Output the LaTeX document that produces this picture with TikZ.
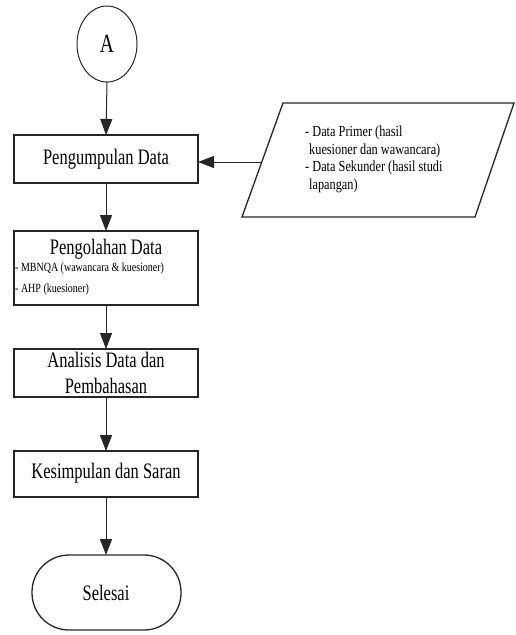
\documentclass[tikz,border=0pt]{standalone}
\usepackage{fontspec}
\setmainfont{Liberation Serif}
\usetikzlibrary{arrows.meta,shapes.geometric,shapes.misc}
\newcommand{\tallt}[1]{\scalebox{1.03}[1.38]{#1}}
\newcommand{\talls}[1]{\scalebox{1}[1.25]{#1}}
\begin{document}
\begin{tikzpicture}[x=1pt,y=-1pt,
  every node/.style={inner sep=0pt},
  line/.style={line width=1.3pt,draw=black!85},
  flow/.style={line width=1pt,draw=black!85,-{Triangle[length=16pt,width=12pt]}},
  big/.style={font=\fontsize{16}{18}\selectfont},
  huge/.style={font=\fontsize{19}{21}\selectfont},
  small/.style={font=\fontsize{10}{11}\selectfont},
  txt/.style={font=\fontsize{12.3}{14}\selectfont}]
\useasboundingbox (0,0) rectangle (515,635);
% connector A
\draw[line,line width=1pt] (107,44) ellipse (30 and 38);
\node[huge] (A) at (107,44) {\tallt{A}};
\coordinate (Abot) at (107,82);
% boxes
\draw[line] (14,135) rectangle (198,183);
\node[big] (b1) at (106,159) {\tallt{Pengumpulan Data}};
\coordinate (b1t) at (106,135);
\coordinate (b1b) at (106,183);
\coordinate (b1r) at (198,162);

\draw[line] (14,231) rectangle (198,305);
\node[big] (b2) at (106,249) {\tallt{Pengolahan Data}};
\node[small,anchor=west] (b2a) at (15,268) {\talls{- MBNQA (wawancara \& kuesioner)}};
\node[small,anchor=west] (b2b) at (15,289) {\talls{- AHP (kuesioner)}};
\coordinate (b2t) at (106,231);
\coordinate (b2b) at (106,305);

\draw[line] (14,349) rectangle (198,397);
\node[big] (b3a) at (106,360) {\tallt{Analisis Data dan}};
\node[big] (b3b) at (106,386) {\tallt{Pembahasan}};
\coordinate (b3t) at (106,349);
\coordinate (b3b) at (106,397);

\draw[line] (14,451) rectangle (198,497);
\node[big] (b4) at (106,473) {\tallt{Kesimpulan dan Saran}};
\coordinate (b4t) at (106,451);
\coordinate (b4b) at (106,497);

\draw[line,rounded corners=37pt] (32,555) rectangle (181,630);
\node[big] (end) at (106,593) {\tallt{Selesai}};
\coordinate (endt) at (106,555);

% parallelogram
\draw[line] (283,103) -- (514,103) -- (475,217) -- (242,217) -- cycle;
\coordinate (pl) at (262,162);
\node[txt,anchor=west] (p1) at (305,133) {\talls{- Data Primer (hasil}};
\node[txt,anchor=west] (p2) at (309,151) {\talls{kuesioner dan wawancara)}};
\node[txt,anchor=west] (p3) at (305,168) {\talls{- Data Sekunder (hasil studi}};
\node[txt,anchor=west] (p4) at (309,186) {\talls{lapangan)}};

\draw[flow] (Abot) -- (b1t);
\draw[flow] (b1b) -- (b2t);
\draw[flow] (b2b) -- (b3t);
\draw[flow] (b3b) -- (b4t);
\draw[flow] (b4b) -- (endt);
\draw[flow] (pl) -- (b1r);
\end{tikzpicture}
\end{document}
